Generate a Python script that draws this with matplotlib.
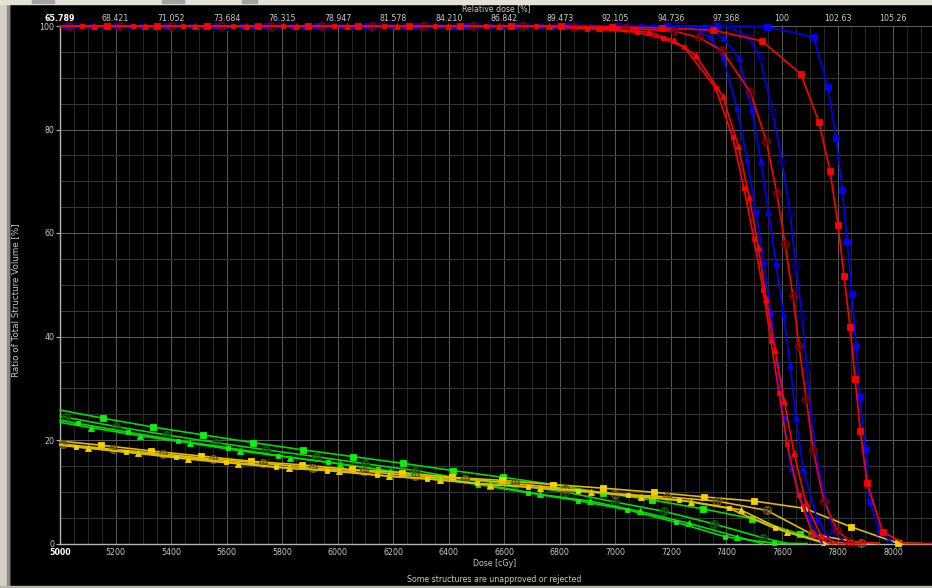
import matplotlib.pyplot as plt
from matplotlib.path import Path
from matplotlib.patches import Rectangle
from matplotlib.ticker import MultipleLocator

# cumulative DVH, dose [cGy] vs ratio of structure volume [%]
# red structures
red_sq_dose = [5000, 5169, 5350, 5530, 5713, 5893, 6074, 6258, 6441, 6624, 6805, 6987, 7169, 7353,
               7528, 7668, 7733, 7773, 7802, 7823, 7845, 7863, 7882, 7906, 7962, 8040, 8140]
red_sq_vol = [100, 100, 100, 100, 100, 100, 100, 100, 100, 100, 99.95, 99.85, 99.6, 99.2,
              97.1, 90.7, 81.4, 71.9, 61.5, 51.7, 41.8, 31.8, 21.7, 11.7, 2.3, 0, 0]
red_cx_dose = [5000, 5032, 5215, 5399, 5580, 5760, 5942, 6124, 6306, 6488, 6668, 6851, 7034, 7212,
               7300, 7383, 7486, 7543, 7581, 7611, 7639, 7661, 7687, 7712, 7750, 7797, 7845, 7950]
red_cx_vol = [100, 100, 100, 100, 100, 100, 100, 100, 100, 100, 100, 99.9, 99.6, 99.0,
              97.8, 95.3, 87.2, 77.8, 67.7, 57.8, 47.9, 38.1, 28.0, 18.1, 8.3, 2.6, 0.35, 0]
red_tri_dose = [5000, 5124, 5306, 5486, 5669, 5851, 6032, 6215, 6396, 6581, 6761, 6942, 7122,
                7210, 7290, 7386, 7442, 7482, 7515, 7543, 7575, 7608, 7643, 7686, 7740, 7800, 7900]
red_tri_vol = [100, 100, 100, 100, 100, 100, 100, 100, 100, 100, 100, 99.6, 98.8,
               97.2, 94.3, 86.5, 76.9, 66.9, 57.2, 47.3, 37.3, 27.5, 17.5, 7.8, 1.5, 0, 0]
red_dot_dose = [5000, 5080, 5262, 5442, 5624, 5804, 5987, 6168, 6350, 6534, 6714, 6897, 7077,
                7170, 7248, 7361, 7422, 7463, 7499, 7532, 7560, 7589, 7618, 7660, 7710, 7770, 7880]
red_dot_vol = [100, 100, 100, 100, 100, 100, 100, 100, 100, 100, 100, 99.5, 98.8,
               97.6, 95.9, 88.0, 78.5, 68.6, 58.8, 48.9, 39.1, 29.1, 19.2, 9.3, 1.8, 0, 0]

# blue structures
blue_sq_dose = [5000, 5025, 5205, 5385, 5565, 5745, 5925, 6105, 6285, 6465, 6645, 6825, 7005, 7185,
                7365, 7545, 7714, 7765, 7795, 7817, 7835, 7851, 7867, 7881, 7899, 7915, 7953, 8000]
blue_sq_vol = [100, 100, 100, 100, 100, 100, 100, 100, 100, 100, 100, 100, 100, 100,
               100, 99.9, 97.8, 88.2, 78.3, 68.3, 58.2, 48.3, 38.2, 28.3, 18.3, 8.1, 2.2, 0]
blue_cx_dose = [5000, 5064, 5244, 5424, 5604, 5784, 5964, 6144, 6324, 6504, 6684, 6864, 7044, 7224,
                7404, 7480, 7521, 7565, 7600, 7629, 7649, 7672, 7689, 7705, 7733, 7785, 7830]
blue_cx_vol = [100, 100, 100, 100, 100, 100, 100, 100, 100, 100, 100, 100, 100, 100,
               100, 97.8, 93.8, 83.6, 73.8, 63.8, 53.8, 44.0, 34.0, 23.9, 14.0, 2.3, 0]
blue_tri_dose = [5000, 5157, 5337, 5517, 5697, 5877, 6057, 6237, 6417, 6597, 6777, 6957, 7137,
                 7317, 7390, 7444, 7491, 7523, 7551, 7578, 7605, 7629, 7650, 7676, 7726, 7780]
blue_tri_vol = [100, 100, 100, 100, 100, 100, 100, 100, 100, 100, 100, 100, 100,
                99.9, 97.6, 93.8, 84.0, 74.0, 64.1, 54.2, 44.3, 34.5, 24.4, 14.3, 4.8, 0]
blue_dot_dose = [5000, 5112, 5292, 5472, 5652, 5832, 6012, 6192, 6372, 6552, 6732, 6912, 7092,
                 7272, 7340, 7389, 7438, 7475, 7506, 7535, 7560, 7583, 7606, 7632, 7695, 7745]
blue_dot_vol = [100, 100, 100, 100, 100, 100, 100, 100, 100, 100, 100, 100, 100,
                99.9, 97.8, 93.8, 83.9, 74.0, 64.1, 54.2, 44.3, 34.4, 24.2, 14.3, 4.9, 0]

# green structures
green_sq_dose = [5000, 5156, 5335, 5514, 5694, 5874, 6054, 6234, 6414, 6594, 6774, 6954, 7133,
                 7315, 7492, 7665, 7760]
green_sq_vol = [25.8, 24.2, 22.5, 21.0, 19.5, 18.1, 16.8, 15.5, 14.1, 12.8, 11.4, 9.8, 8.4,
                6.7, 4.8, 1.8, 0]
green_cx_dose = [5000, 5020, 5202, 5381, 5561, 5741, 5921, 6100, 6280, 6460, 6640, 6820, 7000,
                 7176, 7354, 7531, 7620]
green_cx_vol = [24.6, 24.4, 22.6, 21.0, 19.5, 18.1, 16.8, 15.4, 14.1, 12.4, 11.3, 9.95, 8.0,
                6.2, 3.8, 1.1, 0]
green_tri_dose = [5000, 5110, 5289, 5469, 5649, 5829, 6009, 6190, 6368, 6549, 6729, 6909, 7089,
                  7265, 7439, 7530]
green_tri_vol = [23.4, 22.4, 20.8, 19.4, 17.9, 16.6, 15.4, 14.0, 12.7, 11.2, 9.5, 8.2, 6.2,
                 3.9, 1.3, 0]
green_dot_dose = [5000, 5066, 5246, 5426, 5606, 5786, 5965, 6145, 6325, 6505, 6685, 6865, 7043,
                  7219, 7395, 7571, 7690]
green_dot_vol = [23.8, 23.2, 21.5, 19.9, 18.5, 17.0, 15.7, 14.3, 12.8, 11.4, 9.8, 8.3, 6.5,
                 4.1, 1.3, 0.05, 0]

# yellow structures
yellow_sq_dose = [5000, 5147, 5327, 5507, 5687, 5870, 6050, 6231, 6411, 6593, 6774, 6954, 7138,
                  7319, 7500, 7680, 7849, 8018, 8100]
yellow_sq_vol = [19.8, 19.0, 17.9, 16.9, 15.9, 15.2, 14.3, 13.7, 12.8, 12.2, 11.4, 10.7, 9.9,
                 9.0, 8.2, 6.8, 3.2, 0.05, 0]
yellow_cx_dose = [5000, 5012, 5192, 5372, 5552, 5732, 5912, 6095, 6278, 6459, 6639, 6819, 6999,
                  7185, 7365, 7545, 7707, 7884, 7950]
yellow_cx_vol = [19.3, 19.2, 18.2, 17.3, 16.3, 15.5, 14.6, 14.0, 13.0, 12.5, 11.6, 10.6, 9.6,
                 9.0, 8.2, 6.4, 1.8, 0.15, 0]
yellow_tri_dose = [5000, 5102, 5282, 5462, 5642, 5826, 6006, 6186, 6368, 6549, 6729, 6911, 7092,
                   7272, 7451, 7618, 7760, 7900]
yellow_tri_vol = [19.0, 18.4, 17.4, 16.3, 15.4, 14.5, 14.0, 13.0, 12.3, 11.4, 10.8, 10.0, 9.0,
                  8.1, 6.5, 2.2, 0, 0]
yellow_dot_dose = [5000, 5058, 5238, 5418, 5598, 5778, 5960, 6141, 6323, 6503, 6684, 6864, 7045,
                   7229, 7409, 7575, 7749, 7850]
yellow_dot_vol = [19.1, 18.7, 17.7, 16.8, 15.8, 14.8, 14.1, 13.2, 12.5, 11.6, 10.9, 10.1, 9.4,
                  8.4, 6.8, 2.9, 0.15, 0]

# top axis: relative dose, prescription 7600 cGy
top_ticks = [5000, 5200, 5400, 5600, 5800, 6000, 6200, 6400, 6600, 6800, 7000, 7200, 7400,
             7600, 7800, 8000]
top_labels = ['65.789', '68.421', '71.052', '73.684', '76.315', '78.947', '81.578', '84.210',
              '86.842', '89.473', '92.105', '94.736', '97.368', '100', '102.63', '105.26']

# circle with a cross marker
cross = Path([(-1, 0), (1, 0), (0, -1), (0, 1)],
             [Path.MOVETO, Path.LINETO, Path.MOVETO, Path.LINETO])
circle_cross = Path.make_compound_path(Path.unit_circle(), cross)

W, H = 932, 588
fig = plt.figure(figsize=(W / 100, H / 100), dpi=100, facecolor='black')
ax = fig.add_axes([60 / W, (H - 543.5) / H, 872 / W, 517.5 / H])
ax.set_facecolor('black')


def dvh(dose, vol, color, marker, ms, mcolor=None, hollow=False):
    mk = [i for i in range(1, len(vol)) if vol[i] > 0]
    mc = mcolor or color
    ax.plot(dose, vol, color=color, lw=1.2, marker=marker, ms=ms, markevery=mk,
            mfc='none' if hollow else mc, mec=mc, mew=1.0 if hollow else 0.6,
            clip_on=False, zorder=3)


dvh(green_sq_dose, green_sq_vol, '#00dc00', 's', 4.3, '#10f010')
dvh(green_cx_dose, green_cx_vol, '#00dc00', circle_cross, 5.5, '#0a5a0a', hollow=True)
dvh(green_tri_dose, green_tri_vol, '#00dc00', '^', 5.0, '#10f010')
dvh(green_dot_dose, green_dot_vol, '#00dc00', 's', 3.0, '#10f010')

dvh(yellow_sq_dose, yellow_sq_vol, '#e0bc00', 's', 4.3, '#f5d000')
dvh(yellow_cx_dose, yellow_cx_vol, '#e0bc00', circle_cross, 5.5, '#6a5812', hollow=True)
dvh(yellow_tri_dose, yellow_tri_vol, '#e0bc00', '^', 5.0, '#f5d000')
dvh(yellow_dot_dose, yellow_dot_vol, '#e0bc00', 's', 3.0, '#f5d000')

dvh(blue_sq_dose, blue_sq_vol, '#0000ff', 's', 4.3)
dvh(blue_cx_dose, blue_cx_vol, '#0000ff', circle_cross, 5.5, '#000070', hollow=True)
dvh(blue_tri_dose, blue_tri_vol, '#0000ff', '^', 5.0)
dvh(blue_dot_dose, blue_dot_vol, '#0000ff', 's', 3.0)

dvh(red_sq_dose, red_sq_vol, '#ff0000', 's', 4.3)
dvh(red_cx_dose, red_cx_vol, '#ff0000', circle_cross, 5.5, '#7a0000', hollow=True)
dvh(red_tri_dose, red_tri_vol, '#ff0000', '^', 5.0)
dvh(red_dot_dose, red_dot_vol, '#ff0000', 's', 3.0)

ax.set_xlim(5000, 8140)
ax.set_ylim(0, 100)
ax.set_xticks(top_ticks)
ax.set_yticks([0, 20, 40, 60, 80, 100])
ax.xaxis.set_minor_locator(MultipleLocator(50))
ax.yaxis.set_minor_locator(MultipleLocator(5))
ax.xaxis.grid(True, which='major', color='#565656', lw=0.75)
ax.xaxis.grid(True, which='minor', color='#262626', lw=0.75)
ax.yaxis.grid(True, which='major', color='#5c5c5c', lw=0.75)
ax.yaxis.grid(True, which='minor', color='#363636', lw=0.75)
ax.tick_params(axis='x', which='both', length=0, pad=3, labelsize=5.7, labelcolor='#c8c8c8')
ax.tick_params(axis='y', which='major', length=3, width=0.8, color='#b0b0b0', pad=1,
               labelsize=5.7, labelcolor='#c8c8c8')
ax.tick_params(axis='y', which='minor', length=0)
for side in ['top', 'right']:
    ax.spines[side].set_visible(False)
for side in ['left', 'bottom']:
    ax.spines[side].set_color('#b4b4b4')
    ax.spines[side].set_linewidth(1.0)
first = ax.get_xticklabels()[0]
first.set_fontweight('bold')
first.set_color('white')

ax2 = ax.twiny()
ax2.set_xlim(ax.get_xlim())
ax2.set_xticks(top_ticks)
ax2.set_xticklabels(top_labels)
ax2.tick_params(axis='x', length=0, pad=2, labelsize=5.7, labelcolor='#c8c8c8')
for side in ['top', 'right', 'left', 'bottom']:
    ax2.spines[side].set_visible(False)
t0 = ax2.get_xticklabels()[0]
t0.set_fontweight('bold')
t0.set_color('white')

txt = dict(color='#c8c8c8', fontsize=5.7, ha='center', va='center')
fig.text(495 / W, 1 - 564 / H, 'Dose [cGy]', **txt)
fig.text(496 / W, 1 - 9 / H, 'Relative dose [%]', **txt)
fig.text(494 / W, 1 - 580 / H, 'Some structures are unapproved or rejected', **txt)
fig.text(16 / W, 1 - 300 / H, 'Ratio of Total Structure Volume [%]', rotation=90,
         color='#c8c8c8', fontsize=6.3, ha='center', va='center')

# window frame around the plot
fig.patches.append(Rectangle((0, 0), 9 / W, 1, transform=fig.transFigure, color='#d4d0c8'))
fig.patches.append(Rectangle((7 / W, 0), 1.5 / W, 1, transform=fig.transFigure, color='#8a8a8a'))
fig.patches.append(Rectangle((0, 1 - 4 / H), 1, 4 / H, transform=fig.transFigure, color='#e4e1d8'))
fig.patches.append(Rectangle((0, 0), 1, 2 / H, transform=fig.transFigure, color='#b8b4a8'))
for x0, x1 in [(32, 54), (162, 184), (242, 257)]:
    fig.patches.append(Rectangle((x0 / W, 1 - 3 / H), (x1 - x0) / W, 3 / H,
                                 transform=fig.transFigure, color='#a4a4a4'))

fig.savefig('out.png', dpi=100, facecolor='black')
